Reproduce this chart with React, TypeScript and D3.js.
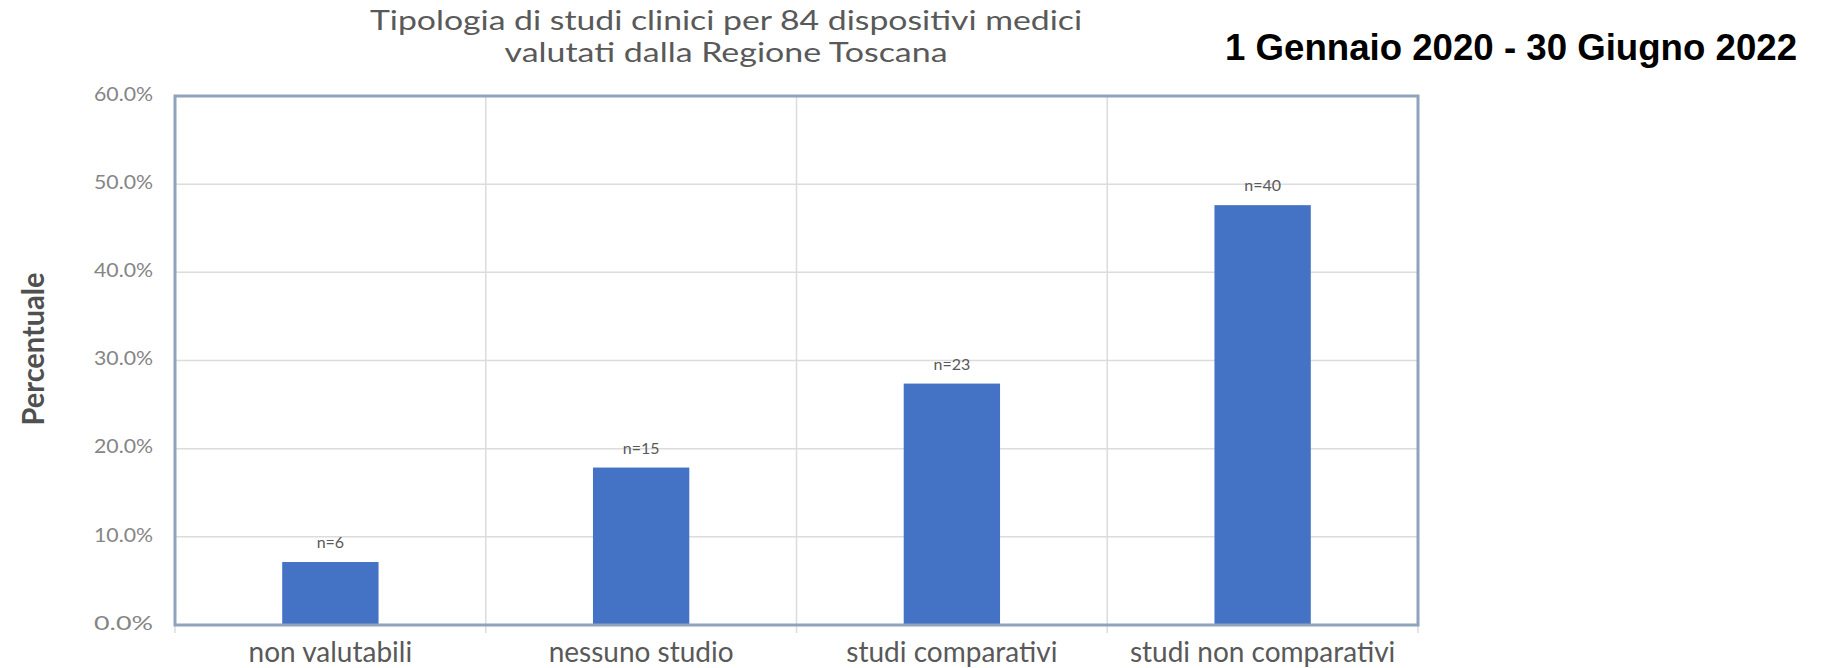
/** Bar chart: tipologia di studi clinici per 84 dispositivi medici (Regione Toscana). */

import * as d3 from "d3";

const categories = [
  "non valutabili",
  "nessuno studio",
  "studi comparativi",
  "studi non comparativi",
];
const counts = [6, 15, 23, 40];
const totalDevices = 84;
const yTicks = [0, 10, 20, 30, 40, 50, 60];
const titleLines = [
  "Tipologia di studi clinici per 84 dispositivi medici",
  "valutati dalla Regione Toscana",
];
const periodLabel = "1 Gennaio 2020 - 30 Giugno 2022";
const yAxisLabel = "Percentuale";

const WIDTH = 1823;
const HEIGHT = 668;
const margin = { top: 96, right: 405, bottom: 43, left: 175 };
const innerW = WIDTH - margin.left - margin.right;
const innerH = HEIGHT - margin.top - margin.bottom;

const BAR_COLOR = "#4472C4";
const FRAME = "#8FA3BC";
const GRID = "#DCDCDC";
const TEXT = "#595959";
const CALIBRI = "Lato, 'Open Sans', sans-serif";

export default function App() {
  const data = categories.map((c, i) => ({
    category: c,
    n: counts[i],
    pct: (counts[i] / totalDevices) * 100,
  }));

  const x = d3.scaleBand<string>().domain(categories).range([0, innerW]).padding(0);
  const y = d3.scaleLinear().domain([0, 60]).range([innerH, 0]);
  const barW = x.bandwidth() * 0.31;
  const boundaries = categories.map((c) => x(c) ?? 0).concat(innerW);

  return (
    <svg
      width={WIDTH}
      height={HEIGHT}
      style={{ position: "absolute", left: 0, top: 0, background: "#fff" }}
    >
      {/* Title */}
      {titleLines.map((t, i) => (
        <text
          key={t}
          x={726}
          y={30 + i * 32}
          textAnchor="middle"
          fill={TEXT}
          fontFamily={CALIBRI}
          fontSize={26}
          textLength={i === 0 ? 712 : 443}
          lengthAdjust="spacingAndGlyphs"
        >
          {t}
        </text>
      ))}

      {/* Period */}
      <text
        x={1225}
        y={60}
        fill="#000"
        fontFamily="'Liberation Sans', Arial, sans-serif"
        fontWeight={700}
        fontSize={36}
        textLength={572}
        lengthAdjust="spacingAndGlyphs"
      >
        {periodLabel}
      </text>

      {/* Y axis title */}
      <text
        transform={`translate(44,${349}) rotate(-90)`}
        textAnchor="middle"
        fill="#505050"
        fontFamily={CALIBRI}
        fontWeight={700}
        fontSize={31}
        textLength={153}
        lengthAdjust="spacingAndGlyphs"
      >
        {yAxisLabel}
      </text>

      <g transform={`translate(${margin.left},${margin.top})`}>
        {/* Horizontal grid */}
        {yTicks.slice(1, -1).map((t) => (
          <line
            key={t}
            x1={0}
            x2={innerW}
            y1={y(t)}
            y2={y(t)}
            stroke={GRID}
            strokeWidth={1.5}
          />
        ))}

        {/* Vertical category separators + ticks below axis */}
        {boundaries.map((b, i) => (
          <g key={i}>
            {i > 0 && i < boundaries.length - 1 && (
              <line x1={b} x2={b} y1={0} y2={innerH} stroke={GRID} strokeWidth={1.5} />
            )}
            <line x1={b} x2={b} y1={innerH} y2={innerH + 8} stroke={GRID} strokeWidth={1.5} />
          </g>
        ))}

        {/* Bars */}
        {data.map((d) => (
          <rect
            key={d.category}
            x={(x(d.category) ?? 0) + (x.bandwidth() - barW) / 2}
            y={y(d.pct)}
            width={barW}
            height={innerH - y(d.pct)}
            fill={BAR_COLOR}
          />
        ))}

        {/* Count labels */}
        {data.map((d) => (
          <text
            key={d.category}
            x={(x(d.category) ?? 0) + x.bandwidth() / 2}
            y={y(d.pct) - 14}
            textAnchor="middle"
            fill={TEXT}
            fontFamily={CALIBRI}
            fontSize={16}
          >
            {`n=${d.n}`}
          </text>
        ))}

        {/* Frame */}
        <rect
          x={0}
          y={0}
          width={innerW}
          height={innerH}
          fill="none"
          stroke={FRAME}
          strokeWidth={3}
        />

        {/* Y tick labels */}
        {yTicks.map((t) => (
          <text
            key={t}
            x={-22}
            y={y(t)}
            textAnchor="end"
            dominantBaseline="middle"
            fill="#858585"
            fontFamily={CALIBRI}
            fontSize={19}
            textLength={59}
            lengthAdjust="spacingAndGlyphs"
          >
            {`${t.toFixed(1)}%`}
          </text>
        ))}

        {/* X category labels */}
        {categories.map((c) => (
          <text
            key={c}
            x={(x(c) ?? 0) + x.bandwidth() / 2}
            y={innerH + 37}
            textAnchor="middle"
            fill={TEXT}
            fontFamily={CALIBRI}
            fontSize={28}
          >
            {c}
          </text>
        ))}
      </g>
    </svg>
  );
}
